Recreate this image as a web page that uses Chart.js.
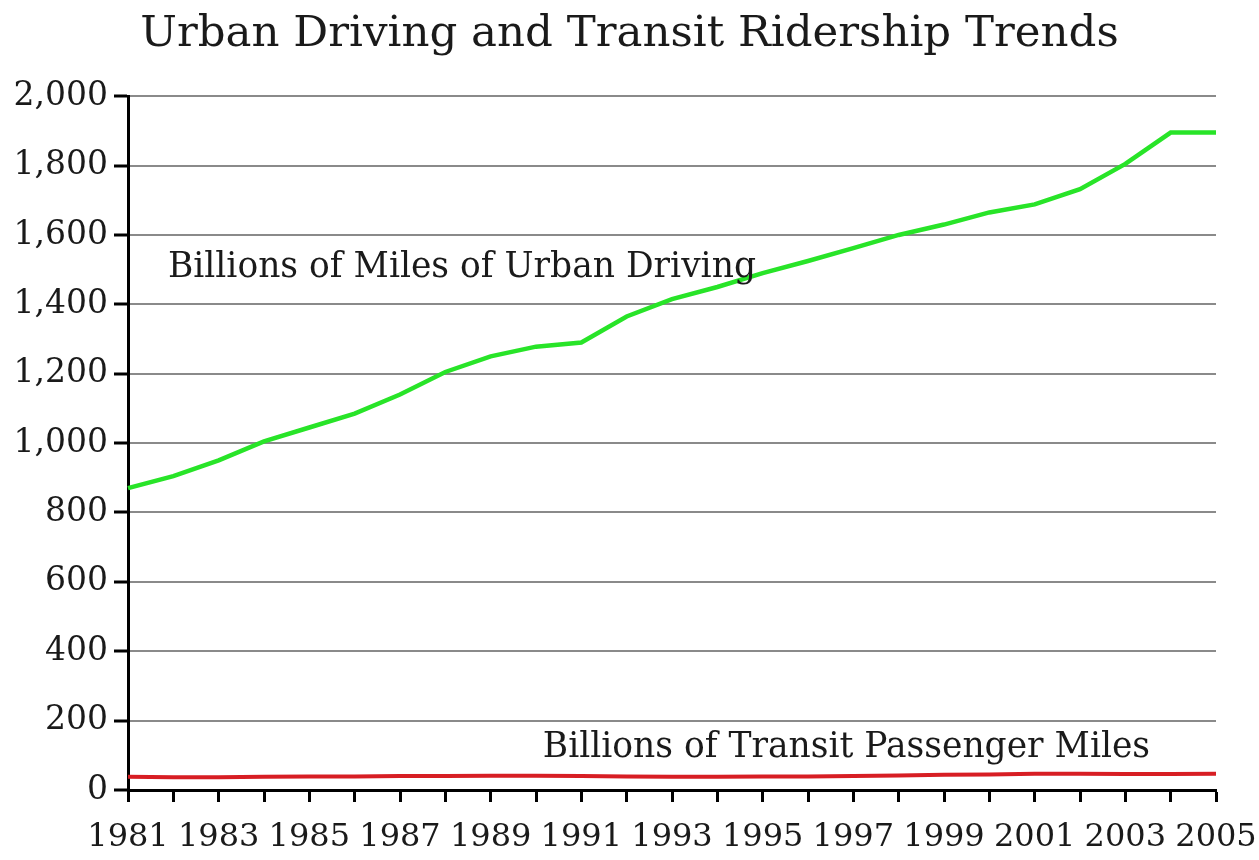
<!DOCTYPE html>
<html>
<head>
<meta charset="utf-8">
<script src="https://cdn.jsdelivr.net/npm/chart.js@4.4.1/dist/chart.umd.min.js"></script>
<style>
  body { margin: 0; background: #fff; }
  #box { width: 1259px; height: 860px; }
</style>
</head>
<body>
<div id="box"><canvas id="grafico"></canvas></div>
<script>
    // dados
    const anos = ['1981','1982','1983','1984','1985','1986','1987','1988','1989','1990','1991','1992','1993',
                  '1994','1995','1996','1997','1998','1999','2000','2001','2002','2003','2004','2005'];

    // bilhões de milhas de direção urbana
    const direcaoUrbana = [870, 905, 950, 1005, 1045, 1085, 1140, 1205, 1250, 1278, 1290, 1365, 1415,
                           1450, 1490, 1525, 1562, 1600, 1630, 1665, 1688, 1732, 1805, 1895, 1895];

    // bilhões de milhas de passageiros do transporte público
    const transporte = [38, 37, 37, 38, 39, 39, 40, 40, 41, 41, 40, 39, 38,
                        38, 39, 39, 40, 42, 44, 45, 47, 47, 46, 46, 47];

    const ticksY = [0, 200, 400, 600, 800, 1000, 1200, 1400, 1600, 1800, 2000];

    const titulo = 'Urban Driving and Transit Ridership Trends';
    const rotulos = ['Billions of Miles of Urban Driving', 'Billions of Transit Passenger Miles'];

    const fonte = "'DejaVu Serif', serif";

    // escreve os rótulos dentro do gráfico, ancorados nas escalas
    const rotulosPlugin = {
        id: 'rotulos',
        afterDatasetsDraw(chart) {
            const ctx = chart.ctx;
            const x = chart.scales.x;
            const y = chart.scales.y;
            ctx.save();
            ctx.font = '34.5px ' + fonte;
            ctx.fillStyle = '#1a1a1a';
            ctx.textBaseline = 'middle';
            ctx.textAlign = 'left';
            ctx.fillText(rotulos[0], x.getPixelForValue(0.88), y.getPixelForValue(1505));
            ctx.fillText(rotulos[1], x.getPixelForValue(9.15), y.getPixelForValue(121));
            ctx.restore();
        }
    };

    const dados = {
        labels: anos,
        datasets: [{
            label: rotulos[0],
            data: direcaoUrbana,
            borderColor: 'rgb(40, 228, 40)',
            borderWidth: 4.5,
            pointRadius: 0,
            tension: 0
        }, {
            label: rotulos[1],
            data: transporte,
            borderColor: 'rgb(215, 30, 35)',
            borderWidth: 4,
            pointRadius: 0,
            tension: 0
        }]
    };

    const config = {
        type: 'line',
        data: dados,
        options: {
            responsive: true,
            maintainAspectRatio: false,
            animation: false,
            layout: { padding: 0 },
            plugins: {
                legend: { display: false },
                tooltip: { enabled: false },
                title: {
                    display: true,
                    text: titulo,
                    color: '#1a1a1a',
                    font: { family: fonte, size: 43.5, weight: 'normal', lineHeight: 1.2 },
                    padding: { top: 9, bottom: 35 }
                }
            },
            scales: {
                x: {
                    offset: false,
                    border: { color: '#000', width: 3 },
                    grid: {
                        drawOnChartArea: false,
                        tickColor: '#000',
                        tickWidth: 3,
                        tickLength: 12
                    },
                    ticks: {
                        autoSkip: false,
                        maxRotation: 0,
                        padding: 16,
                        color: '#1a1a1a',
                        font: { family: fonte, size: 32 },
                        callback: function (valor, indice) {
                            return indice % 2 === 0 ? anos[indice] : '';
                        }
                    },
                    afterFit: function (escala) {
                        escala.height = 70;
                        escala.paddingRight = 43;
                    }
                },
                y: {
                    min: 0,
                    max: 2000,
                    border: { color: '#000', width: 3 },
                    grid: {
                        color: '#8a8a8a',
                        lineWidth: 2,
                        tickColor: '#000',
                        tickWidth: 3,
                        tickLength: 14
                    },
                    afterBuildTicks: function (escala) {
                        escala.ticks = ticksY.map(v => ({ value: v }));
                    },
                    ticks: {
                        padding: 6,
                        color: '#1a1a1a',
                        font: { family: fonte, size: 33 }
                    },
                    afterFit: function (escala) { escala.width = 128; }
                }
            }
        },
        plugins: [rotulosPlugin]
    };

    const meuGrafico = new Chart(document.getElementById('grafico'), config);
</script>
</body>
</html>
